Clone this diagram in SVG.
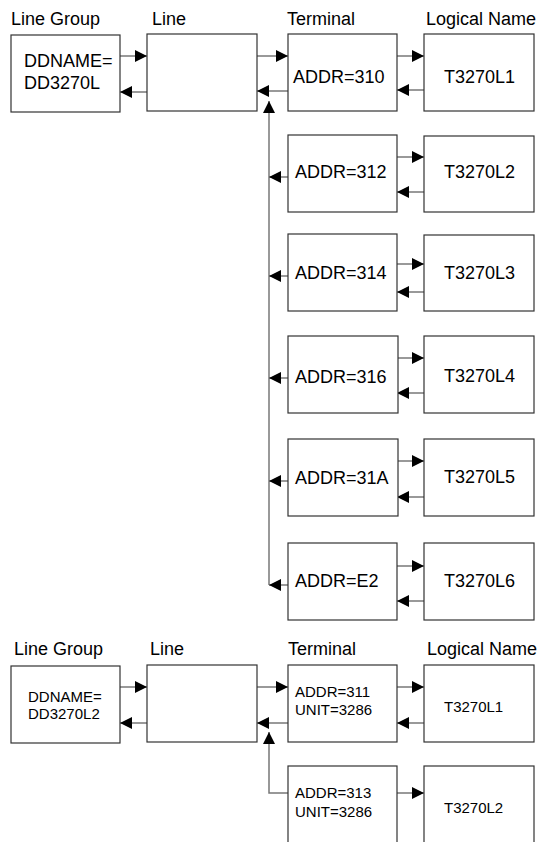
<svg xmlns="http://www.w3.org/2000/svg" width="542" height="842" viewBox="0 0 542 842">
<style>
  .box { fill: #fff; stroke: #333; stroke-width: 1.2; }
  .hdr { font-family: "Liberation Sans", Arial, sans-serif; font-size: 18px; fill: #000; }
  .t { font-family: "Liberation Sans", Arial, sans-serif; font-size: 18px; fill: #000; }
  .s { font-family: "Liberation Sans", Arial, sans-serif; font-size: 15px; fill: #000; }
  .c { fill: none; stroke: #777; stroke-width: 1.5; }
</style>
<defs>
  <marker id="ah" markerUnits="userSpaceOnUse" markerWidth="12" markerHeight="12" refX="12" refY="6" orient="auto">
    <path d="M0,0 L12,6 L0,12 z" fill="#000"/>
  </marker>
</defs>
<rect width="542" height="842" fill="#fff"/>

<g id="headers">
  <text class="hdr" x="11" y="25">Line Group</text>
  <text class="hdr" x="152" y="25">Line</text>
  <text class="hdr" x="287" y="25">Terminal</text>
  <text class="hdr" x="426" y="25">Logical Name</text>
  <text class="hdr" x="14" y="655">Line Group</text>
  <text class="hdr" x="150" y="655">Line</text>
  <text class="hdr" x="288" y="655">Terminal</text>
  <text class="hdr" x="427" y="655">Logical Name</text>
</g>

<g id="connectors">
  <!-- top section -->
  <path class="c" d="M120,56 H147" marker-end="url(#ah)"/>
  <path class="c" d="M147,92 H120" marker-end="url(#ah)"/>
  <path class="c" d="M257,56 H288" marker-end="url(#ah)"/>
  <path class="c" d="M288,91 H257" marker-end="url(#ah)"/>
  <path class="c" d="M269,585 V101" marker-end="url(#ah)"/>
  <path class="c" d="M397,56 H424" marker-end="url(#ah)"/>
  <path class="c" d="M424,90 H397" marker-end="url(#ah)"/>

  <path class="c" d="M288,177 H269" marker-end="url(#ah)"/>
  <path class="c" d="M397,157 H424" marker-end="url(#ah)"/>
  <path class="c" d="M424,192 H397" marker-end="url(#ah)"/>

  <path class="c" d="M288,276 H269" marker-end="url(#ah)"/>
  <path class="c" d="M397,264 H424" marker-end="url(#ah)"/>
  <path class="c" d="M424,292 H397" marker-end="url(#ah)"/>

  <path class="c" d="M288,378 H269" marker-end="url(#ah)"/>
  <path class="c" d="M397,358 H424" marker-end="url(#ah)"/>
  <path class="c" d="M424,393 H397" marker-end="url(#ah)"/>

  <path class="c" d="M288,481 H269" marker-end="url(#ah)"/>
  <path class="c" d="M397,461 H424" marker-end="url(#ah)"/>
  <path class="c" d="M424,497 H397" marker-end="url(#ah)"/>

  <path class="c" d="M288,585 H269" marker-end="url(#ah)"/>
  <path class="c" d="M397,566 H424" marker-end="url(#ah)"/>
  <path class="c" d="M424,601 H397" marker-end="url(#ah)"/>

  <!-- bottom section -->
  <path class="c" d="M120,687 H147" marker-end="url(#ah)"/>
  <path class="c" d="M147,723 H120" marker-end="url(#ah)"/>
  <path class="c" d="M257,687 H288" marker-end="url(#ah)"/>
  <path class="c" d="M288,723 H257" marker-end="url(#ah)"/>
  <path class="c" d="M288,793 H269 V732" marker-end="url(#ah)"/>
  <path class="c" d="M397,687 H424" marker-end="url(#ah)"/>
  <path class="c" d="M424,723 H397" marker-end="url(#ah)"/>
  <path class="c" d="M397,793 H424" marker-end="url(#ah)"/>
</g>

<g id="linegroup1">
  <rect class="box" x="11" y="35" width="109" height="77"/>
  <text class="t" x="24" y="67">DDNAME=</text>
  <text class="t" x="24" y="89">DD3270L</text>
</g>
<g id="line1"><rect class="box" x="147" y="34" width="110" height="77"/></g>

<g id="term310">
  <rect class="box" x="288" y="34" width="109" height="77"/>
  <text class="t" x="293" y="83">ADDR=310</text>
</g>
<g id="ln1"><rect class="box" x="424" y="34" width="110" height="77"/><text class="t" x="444" y="83">T3270L1</text></g>

<g id="term312">
  <rect class="box" x="288" y="135" width="109" height="77"/>
  <text class="t" x="295" y="178">ADDR=312</text>
</g>
<g id="ln2"><rect class="box" x="424" y="136" width="110" height="76"/><text class="t" x="444" y="178">T3270L2</text></g>

<g id="term314">
  <rect class="box" x="288" y="234" width="109" height="77"/>
  <text class="t" x="295" y="279">ADDR=314</text>
</g>
<g id="ln3"><rect class="box" x="424" y="235" width="110" height="76"/><text class="t" x="444" y="279">T3270L3</text></g>

<g id="term316">
  <rect class="box" x="288" y="336" width="110" height="77"/>
  <text class="t" x="295" y="383">ADDR=316</text>
</g>
<g id="ln4"><rect class="box" x="424" y="336" width="110" height="77"/><text class="t" x="444" y="382">T3270L4</text></g>

<g id="term31A">
  <rect class="box" x="288" y="439" width="110" height="77"/>
  <text class="t" x="295" y="484">ADDR=31A</text>
</g>
<g id="ln5"><rect class="box" x="424" y="439" width="110" height="77"/><text class="t" x="444" y="483">T3270L5</text></g>

<g id="termE2">
  <rect class="box" x="288" y="543" width="109" height="77"/>
  <text class="t" x="295" y="587">ADDR=E2</text>
</g>
<g id="ln6"><rect class="box" x="424" y="543" width="110" height="77"/><text class="t" x="444" y="587">T3270L6</text></g>

<g id="linegroup2">
  <rect class="box" x="11" y="666" width="109" height="77"/>
  <text class="s" x="28" y="702">DDNAME=</text>
  <text class="s" x="28" y="719">DD3270L2</text>
</g>
<g id="line2"><rect class="box" x="147" y="665" width="110" height="77"/></g>

<g id="term311">
  <rect class="box" x="288" y="665" width="109" height="77"/>
  <text class="s" x="295" y="697">ADDR=311</text>
  <text class="s" x="295" y="715">UNIT=3286</text>
</g>
<g id="ln7"><rect class="box" x="424" y="665" width="110" height="77"/><text class="s" x="444" y="712">T3270L1</text></g>

<g id="term313">
  <rect class="box" x="288" y="766" width="109" height="82"/>
  <text class="s" x="295" y="798">ADDR=313</text>
  <text class="s" x="295" y="817">UNIT=3286</text>
</g>
<g id="ln8"><rect class="box" x="424" y="766" width="110" height="82"/><text class="s" x="444" y="813">T3270L2</text></g>
</svg>
